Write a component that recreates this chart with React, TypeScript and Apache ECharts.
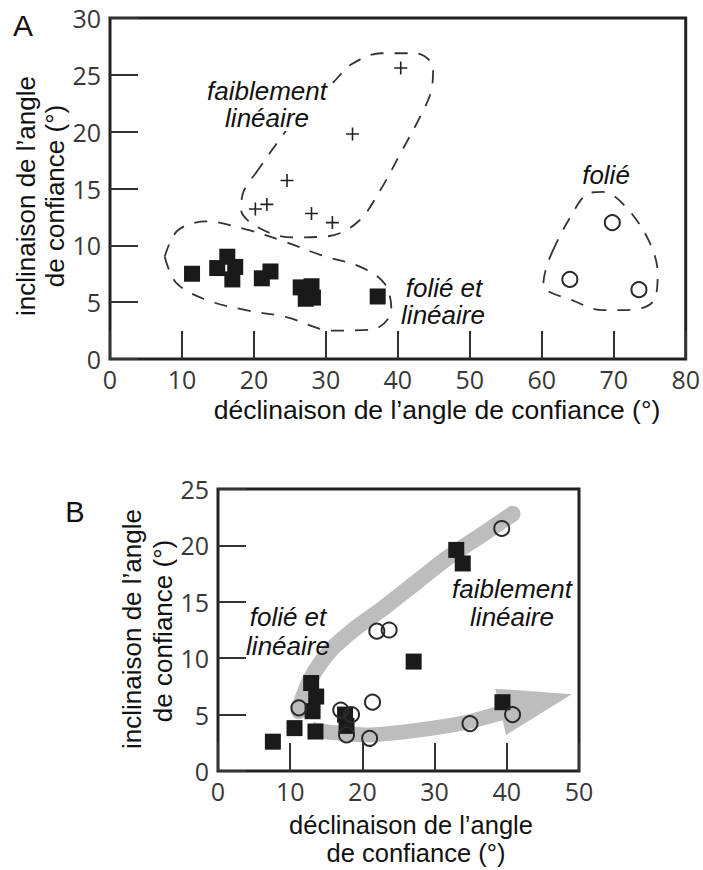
import React, { useEffect, useRef } from "react";
import * as echarts from "echarts";

// ---------- Panel A data ----------
const aXTicks = [0, 10, 20, 30, 40, 50, 60, 70, 80];
const aYTicks = [0, 5, 10, 15, 20, 25, 30];
const aSquares = [
  [11.4, 7.5], [14.9, 8.0], [16.3, 9.0], [17.4, 8.1], [17.0, 7.0],
  [21.1, 7.1], [22.3, 7.7], [26.5, 6.3], [28.0, 6.4], [27.2, 5.3],
  [28.2, 5.4], [37.2, 5.5],
];
const aPlus = [
  [20.2, 13.2], [21.8, 13.6], [24.6, 15.7], [28.0, 12.8],
  [30.9, 12.0], [33.7, 19.8], [40.4, 25.6],
];
const aCircles = [[63.9, 7.0], [69.8, 12.0], [73.5, 6.1]];
const aOutlineWeak = [
  [20.2, 16.3], [23.9, 19.6], [27.5, 22.5], [30.8, 24.2], [33.5, 25.9],
  [37.7, 26.9], [42.5, 26.9], [44.9, 25.6], [44.6, 23.5], [43.0, 21.2],
  [40.2, 17.9], [37.7, 15.0], [34.5, 12.1], [30.3, 10.8], [25.3, 10.7],
  [20.5, 11.6], [18.2, 13.2], [18.6, 14.8], [20.2, 16.3],
];
const aOutlineBoth = [
  [7.6, 9.0], [9.4, 11.3], [13.4, 12.1], [18.9, 11.4], [24.4, 10.3],
  [29.5, 9.1], [34.8, 8.1], [38.2, 6.6], [39.1, 4.3], [36.5, 2.6],
  [31.0, 2.5], [24.4, 3.7], [18.9, 4.3], [13.4, 5.2], [9.2, 6.7], [7.6, 9.0],
];
const aOutlineFolie = [
  [61.5, 9.5], [63.8, 12.3], [66.6, 14.6], [68.5, 14.7], [71.5, 13.5],
  [74.8, 10.5], [76.1, 7.5], [75.4, 5.0], [71.3, 4.3], [68.5, 4.3],
  [64.5, 5.1], [60.2, 6.5], [60.6, 8.0], [61.5, 9.5],
];

// ---------- Panel B data ----------
const bXTicks = [0, 10, 20, 30, 40, 50];
const bYTicks = [0, 5, 10, 15, 20, 25];
const bSquares = [
  [7.6, 2.6], [10.6, 3.8], [12.9, 7.8], [13.6, 6.6], [13.1, 5.3],
  [13.5, 3.5], [17.6, 5.0], [17.8, 4.0], [27.1, 9.7], [33.0, 19.6],
  [33.9, 18.4], [39.4, 6.1],
];
const bCircles = [
  [11.2, 5.6], [17.0, 5.4], [18.5, 5.0], [17.8, 3.2], [21.0, 2.9],
  [21.4, 6.1], [22.0, 12.4], [23.7, 12.5], [34.9, 4.2], [39.3, 21.5],
  [40.8, 5.0],
];
const bBandUpper = [
  [11.2, 5.3], [12.3, 7.4], [14.2, 9.6], [17.6, 11.9], [22.8, 14.4],
  [27.4, 16.7], [32.0, 19.0], [36.7, 21.0], [40.8, 22.8],
];
const bBandLower = [
  [13.0, 3.7], [16.0, 3.4], [20.5, 3.2], [27.4, 3.6], [34.3, 4.3],
  [39.0, 5.1], [41.5, 5.4],
];
const bArrowHead = [[38.4, 7.3], [49.0, 6.8], [39.9, 3.2]];

const TICK_FONT = "'Open Sans', 'DejaVu Sans', sans-serif";
const TEXT_FONT = "'Liberation Sans', Arial, sans-serif";

function axisX(gridIndex: number, ticks: number[]) {
  return {
    type: "value",
    gridIndex,
    min: ticks[0],
    max: ticks[ticks.length - 1],
    interval: ticks[1] - ticks[0],
    axisLine: { show: false },
    axisTick: { show: true, inside: true, length: 28, lineStyle: { color: "#333", width: 2 } },
    axisLabel: { fontSize: 25, color: "#383838", fontFamily: TICK_FONT, margin: 7 },
    splitLine: { show: false },
  };
}
function axisY(gridIndex: number, ticks: number[]) {
  return {
    type: "value",
    gridIndex,
    min: ticks[0],
    max: ticks[ticks.length - 1],
    interval: ticks[1] - ticks[0],
    axisLine: { show: false },
    axisTick: { show: true, inside: true, length: 28, lineStyle: { color: "#333", width: 2 } },
    axisLabel: { fontSize: 25, color: "#383838", fontFamily: TICK_FONT, margin: 9 },
    splitLine: { show: false },
  };
}

function outline(data: number[][]) {
  return {
    type: "line",
    xAxisIndex: 0,
    yAxisIndex: 0,
    data,
    smooth: 0.35,
    symbol: "none",
    lineStyle: { color: "#333", width: 1.8, type: [13, 11] },
    silent: true,
    z: 2,
  };
}

function label(text: string, x: number, y: number, italic = true, size = 26, rotate = 0, bg = false) {
  return {
    type: "text",
    x,
    y,
    rotation: rotate,
    style: {
      text,
      fontSize: size,
      fontStyle: italic ? "italic" : "normal",
      fontFamily: TEXT_FONT,
      fill: "#111",
      align: "center",
      verticalAlign: "middle",
      backgroundColor: bg ? "#fff" : undefined,
      padding: bg ? [0, 3] : 0,
    },
    z: 10,
  };
}

export default function App() {
  const ref = useRef<HTMLDivElement>(null);
  useEffect(() => {
    if (!ref.current) return;
    const chart = echarts.init(ref.current, null, { renderer: "svg" });
    const squareStyle = { color: "#1a1a1a", opacity: 1 };
    const circleStyle = { color: "transparent", borderColor: "#2a2a2a", borderWidth: 2, opacity: 1 };
    chart.setOption({
      animation: false,
      backgroundColor: "#fff",
      grid: [
        { left: 110, top: 18, width: 579, height: 341, show: true, borderColor: "#222", borderWidth: 3, backgroundColor: "transparent" },
        { left: 218, top: 489, width: 361, height: 282, show: true, borderColor: "#222", borderWidth: 3, backgroundColor: "transparent" },
      ],
      xAxis: [axisX(0, aXTicks), axisX(1, bXTicks)],
      yAxis: [axisY(0, aYTicks), axisY(1, bYTicks)],
      series: [
        outline(aOutlineWeak),
        outline(aOutlineBoth),
        outline(aOutlineFolie),
        {
          type: "scatter", xAxisIndex: 0, yAxisIndex: 0, data: aSquares,
          symbol: "rect", symbolSize: 16, itemStyle: squareStyle, z: 4,
        },
        {
          type: "scatter", xAxisIndex: 0, yAxisIndex: 0, data: aPlus,
          symbol: "path://M0,6H12M6,0V12", symbolSize: 13,
          itemStyle: { color: "transparent", borderColor: "#222", borderWidth: 1.6, opacity: 1 }, z: 4,
        },
        {
          type: "scatter", xAxisIndex: 0, yAxisIndex: 0, data: aCircles,
          symbol: "circle", symbolSize: 15, itemStyle: circleStyle, z: 4,
        },
        {
          type: "line", xAxisIndex: 1, yAxisIndex: 1, data: bBandUpper, smooth: 0.5,
          symbol: "none", lineStyle: { color: "#bdbdbd", width: 16, cap: "round" }, z: 1, silent: true,
        },
        {
          type: "line", xAxisIndex: 1, yAxisIndex: 1, data: bBandLower, smooth: 0.3,
          symbol: "none", lineStyle: { color: "#bdbdbd", width: 15, cap: "butt" }, z: 1, silent: true,
        },
        {
          type: "custom", xAxisIndex: 1, yAxisIndex: 1, data: [bArrowHead[1]], z: 1, silent: true,
          clip: false,
          renderItem: (_p: any, api: any) => ({
            type: "polygon",
            shape: { points: bArrowHead.map((p) => api.coord(p)) },
            style: { fill: "#bdbdbd" },
          }),
        },
        {
          type: "scatter", xAxisIndex: 1, yAxisIndex: 1, data: bSquares,
          symbol: "rect", symbolSize: 16, itemStyle: squareStyle, z: 4,
        },
        {
          type: "scatter", xAxisIndex: 1, yAxisIndex: 1, data: bCircles,
          symbol: "circle", symbolSize: 15, itemStyle: circleStyle, z: 5,
        },
      ],
      graphic: [
        label("A", 23, 25, false, 30),
        label("B", 75, 512, false, 29),
        label("inclinaison de l\u2019angle", 26, 196, false, 26, Math.PI / 2),
        label("de confiance (°)", 55, 196, false, 26, Math.PI / 2),
        label("déclinaison de l\u2019angle de confiance (°)", 437, 410, false, 26.5),
        label("inclinaison de l\u2019angle", 132, 629, false, 26, Math.PI / 2),
        label("de confiance (°)", 163, 631, false, 26, Math.PI / 2),
        label("déclinaison de l\u2019angle", 411, 825, false, 25.5),
        label("de confiance (°)", 416, 853, false, 25.5),
        label("faiblement", 267, 91, true, 26, 0, true),
        label("linéaire", 267, 118, true, 26, 0, true),
        label("folié", 606, 175),
        label("folié et", 444, 288, true, 26, 0, true),
        label("linéaire", 443, 315, true, 26, 0, true),
        label("folié et", 288, 617),
        label("linéaire", 288, 646),
        label("faiblement", 512, 589),
        label("linéaire", 512, 617),
      ],
    });
    return () => chart.dispose();
  }, []);
  return (
    <div
      ref={ref}
      style={{ position: "fixed", left: 0, top: 0, width: 703, height: 870, background: "#fff" }}
    />
  );
}
